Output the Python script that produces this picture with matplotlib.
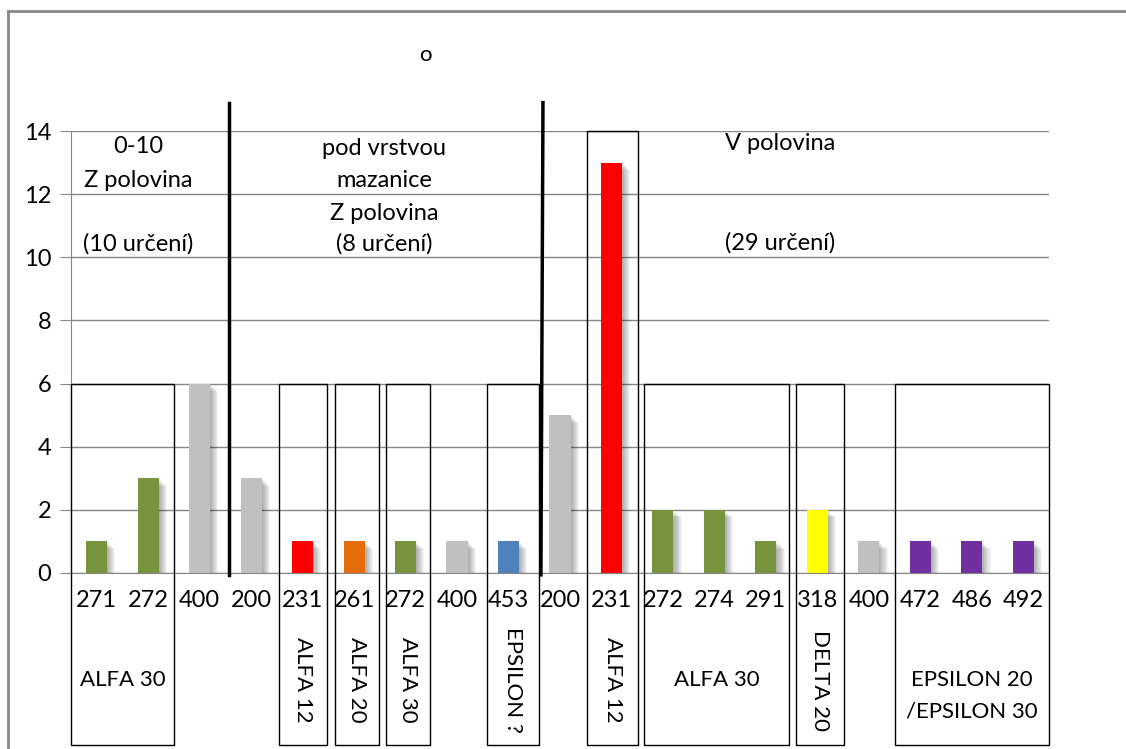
import numpy as np
import matplotlib.pyplot as plt
from matplotlib.patches import Rectangle
from matplotlib.lines import Line2D

plt.rcParams['font.family'] = ['Lato', 'DejaVu Sans']

codes = ['271', '272', '400', '200', '231', '261', '272', '400', '453', '200',
         '231', '272', '274', '291', '318', '400', '472', '486', '492']
counts = [1, 3, 6, 3, 1, 1, 1, 1, 1, 5, 13, 2, 2, 1, 2, 1, 1, 1, 1]
colors = ['#77933C', '#77933C', '#C0C0C0', '#C0C0C0', '#FF0000', '#E46C0A',
          '#77933C', '#C0C0C0', '#4F81BD', '#C0C0C0', '#FF0000', '#77933C',
          '#77933C', '#77933C', '#FFFF00', '#C0C0C0', '#7030A0', '#7030A0',
          '#7030A0']

# type boxes: (left, right, top, label, rotated)
boxes = [(-0.5, 1.5, 6, 'ALFA 30', False),
         (3.55, 4.47, 6, 'ALFA 12', True),
         (4.63, 5.48, 6, 'ALFA 20', True),
         (5.62, 6.47, 6, 'ALFA 30', True),
         (7.58, 8.59, 6, 'EPSILON ?', True),
         (9.53, 10.52, 14, 'ALFA 12', True),
         (10.63, 13.45, 6, 'ALFA 30', False),
         (13.59, 14.52, 6, 'DELTA 20', True),
         (15.51, 18.5, 6, '', False)]

x = np.arange(len(codes))
fig = plt.figure(figsize=(11.26, 7.49), dpi=100)
ax = fig.add_axes([0.063, 0.235, 0.8686, 0.59])

# soft shadow to the right of each bar
for k in range(1, 9):
    ax.bar(x + 0.02 * k, np.array(counts) - 0.03 * k, width=0.41,
           bottom=0, color='black', alpha=0.045, zorder=1, linewidth=0)
ax.bar(x, counts, width=0.41, color=colors, zorder=2, linewidth=0)

ax.set_xlim(-0.5, 18.5)
ax.set_ylim(0, 14)
ax.set_yticks(range(0, 15, 2))
ax.grid(axis='y', color='#868686', linewidth=1)
ax.set_axisbelow(True)
ax.set_xticks(x)
ax.set_xticklabels(codes, fontsize=17)
ax.tick_params(axis='x', length=0, pad=12)
ax.tick_params(axis='y', length=8, color='#868686', labelsize=17, pad=6)
for s in ['top', 'right']:
    ax.spines[s].set_visible(False)
ax.spines['left'].set_color('#868686')
ax.spines['bottom'].set_color('#868686')

for left, right, top, label, rot in boxes:
    ax.add_patch(Rectangle((left, -5.45), right - left, top + 5.45, fill=False,
                           edgecolor='black', linewidth=1, clip_on=False, zorder=3))
    ax.text((left + right) / 2, -3.4, label, rotation=-90 if rot else 0,
            ha='center', va='center', fontsize=16)
ax.text(17, -3.39, 'EPSILON 20', ha='center', va='center', fontsize=16)
ax.text(17, -4.4, '/EPSILON 30', ha='center', va='center', fontsize=16)

# divider lines
ax.add_line(Line2D([2.57, 2.57], [-0.06, 14.9], color='black', linewidth=2.5,
                   clip_on=False, zorder=4))
ax.add_line(Line2D([8.63, 8.67], [-0.06, 14.9], color='black', linewidth=2.5,
                   clip_on=False, zorder=4))

ax.text(0.8, 13.5, '0-10', ha='center', va='center', fontsize=17)
ax.text(0.8, 12.42, 'Z polovina', ha='center', va='center', fontsize=17)
ax.text(0.8, 10.42, '(10 určení)', ha='center', va='center', fontsize=17)
ax.text(5.58, 13.46, 'pod vrstvou', ha='center', va='center', fontsize=17)
ax.text(5.58, 12.45, 'mazanice', ha='center', va='center', fontsize=17)
ax.text(5.58, 11.4, 'Z polovina', ha='center', va='center', fontsize=17)
ax.text(5.58, 10.42, '(8 určení)', ha='center', va='center', fontsize=17)
ax.text(13.28, 13.62, 'V polovina', ha='center', va='center', fontsize=17)
ax.text(13.28, 10.45, '(29 určení)', ha='center', va='center', fontsize=17)
ax.text(6.38, 16.4, 'o', ha='center', va='center', fontsize=16, clip_on=False)

# outer frame
fig.add_artist(Line2D([0.007, 1.0], [0.985, 0.985], color='#888888', linewidth=2))
fig.add_artist(Line2D([0.007, 0.007], [0.0, 0.985], color='#888888', linewidth=2))

fig.savefig('out.png', dpi=100)
